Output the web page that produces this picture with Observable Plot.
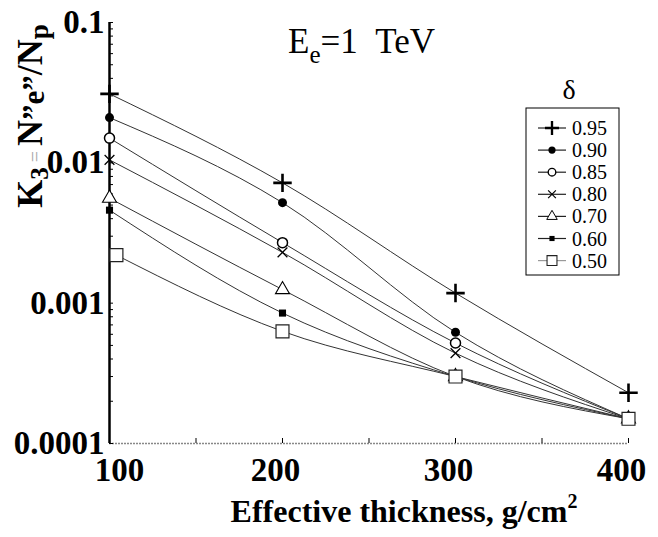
<!DOCTYPE html>
<html><head><meta charset="utf-8">
<script src="https://cdn.jsdelivr.net/npm/d3@7"></script>
<script src="https://cdn.jsdelivr.net/npm/@observablehq/plot@0.6"></script>
<style>
body{margin:0;background:#fff;}
#chart{position:relative;width:658px;height:537px;}
</style></head><body><div id="chart"></div>
<script>
// ---- data ----
const thickness = [100, 200, 300, 400];
const thickness50 = [104, 200, 300, 400];
const deltas = ["0.95", "0.90", "0.85", "0.80", "0.70", "0.60", "0.50"];
const k095 = [0.031, 0.0072, 0.00118, 0.00023];
const k090 = [0.021, 0.0052, 0.00062, 0.00015];
const k085 = [0.0150, 0.0027, 0.00052, 0.00015];
const k080 = [0.0105, 0.0023, 0.00044, 0.00015];
const k070 = [0.0056, 0.00125, 0.00030, 0.00015];
const k060 = [0.0046, 0.00085, 0.00030, 0.00015];
const k050 = [0.0022, 0.00063, 0.00030, 0.00015];
const xTickFirst = [100];
const xTickRest = [200, 300, 400];
const xMinorTicks = [150, 200, 250, 300, 350, 400];
const yTickLabels = [0.1, 0.01, 0.001, 0.0001];

// ---- assembly ----
const seriesK = [k095, k090, k085, k080, k070, k060, k050];
const seriesX = [thickness, thickness, thickness, thickness, thickness, thickness, thickness50];
const rows = deltas.flatMap((d, i) => seriesK[i].map((k, j) => ({delta: d, x: seriesX[i][j], k})));
const yMinor = [];
for (const dec of [0.0001, 0.001, 0.01]) for (let m = 1; m <= 9; m++) yMinor.push(+(dec * m).toPrecision(3));
yMinor.push(0.1);

const style = {
  "0.95": {symbol: "plus", r: 6, fill: "none", stroke: "black", strokeWidth: 2.6, lr: 4.6},
  "0.90": {symbol: "circle", r: 4.5, fill: "black", stroke: "none", strokeWidth: 0, lr: 3.6},
  "0.85": {symbol: "circle", r: 5, fill: "white", stroke: "black", strokeWidth: 1.5, lr: 3.8},
  "0.80": {symbol: "times", r: 4.5, fill: "none", stroke: "black", strokeWidth: 1.3, lr: 3.6},
  "0.70": {symbol: "triangle", r: 5.2, fill: "white", stroke: "black", strokeWidth: 1.1, lr: 3.9},
  "0.60": {symbol: "square", r: 4, fill: "black", stroke: "none", strokeWidth: 0, lr: 2.9},
  "0.50": {symbol: "square", r: 7.3, fill: "white", stroke: "#222", strokeWidth: 1.2, lr: 5.6}
};
const d3sym = {plus: d3.symbolPlus, circle: d3.symbolCircle, times: d3.symbolTimes, triangle: d3.symbolTriangle, square: d3.symbolSquare};

const serif = "'Liberation Serif', 'Times New Roman', serif";

const dotMarks = deltas.map(d => {
  const s = style[d];
  return Plot.dot(rows.filter(r => r.delta === d), {
    x: "x", y: "k", symbol: () => s.symbol, r: s.r,
    fill: s.fill, stroke: s.stroke, strokeWidth: s.strokeWidth
  });
});

const xLabelStyle = {tickSize: 0, tickPadding: 14, fontSize: 33, fontWeight: "bold", fontFamily: serif, fill: "black", label: null, tickFormat: d => String(d)};

const plot = Plot.plot({
  width: 658, height: 537,
  marginLeft: 109, marginRight: 30, marginTop: 22, marginBottom: 94,
  x: {type: "linear", domain: [100, 400], label: null},
  y: {type: "log", domain: [0.0001, 0.1], label: null},
  symbol: {type: "identity"},
  marks: [
    Plot.ruleY([0.0001], {stroke: "#888", strokeWidth: 1.5, strokeDasharray: "2,1"}),
    Plot.axisX(xMinorTicks, {tickSize: -5, tickFormat: () => "", stroke: "black", label: null}),
    Plot.axisX(xTickFirst, {...xLabelStyle, dx: 10}),
    Plot.axisX(xTickRest, {...xLabelStyle, dx: -7}),
    Plot.axisY(yMinor, {tickSize: -4, tickFormat: () => "", stroke: "black", label: null}),
    Plot.axisY(yTickLabels, {tickSize: 0, tickPadding: 5, fontSize: 33, fontWeight: "bold", fontFamily: serif, fill: "black", label: null, tickFormat: d => String(d)}),
    Plot.ruleX([100], {stroke: "black", strokeWidth: 2.5}),
    Plot.line(rows, {x: "x", y: "k", z: "delta", curve: "monotone-x", stroke: "#333", strokeWidth: 1}),
    ...dotMarks
  ]
});
document.getElementById("chart").appendChild(plot);

// ---- text annotations and legend ----
const svg = d3.select(plot);
// y-axis title
const yl = svg.append("text")
  .attr("transform", "translate(42,116) rotate(-90)")
  .attr("text-anchor", "middle")
  .style("font-family", serif).style("font-weight", "bold").style("font-size", "36px").attr("fill", "black");
yl.append("tspan").text("K");
yl.append("tspan").attr("font-size", "25px").attr("dy", 6).text("3");
yl.append("tspan").attr("font-size", "20px").attr("font-weight", "normal").attr("fill", "#aaa").attr("dy", -6).attr("dx", 5).text("=");
yl.append("tspan").attr("dx", 5).text("N");
yl.append("tspan").attr("font-size", "31px").attr("dy", 2).text("\u201De\u201D");
yl.append("tspan").attr("dy", -2).text("/N");
yl.append("tspan").attr("font-size", "27px").attr("dy", 6).text("p");

// x-axis title
const xl = svg.append("text")
  .attr("x", 404).attr("y", 522).attr("text-anchor", "middle")
  .style("font-family", serif).style("font-weight", "bold").style("font-size", "32px").attr("fill", "black");
xl.append("tspan").text("Effective thickness, g/cm");
xl.append("tspan").attr("font-size", "20px").attr("dy", -14).text("2");

// chart title
const tt = svg.append("text").attr("x", 288).attr("y", 53).attr("text-anchor", "start")
  .style("font-family", serif).style("font-size", "35px").attr("fill", "black");
tt.append("tspan").text("E");
tt.append("tspan").attr("font-size", "25px").attr("dy", 10).text("e");
tt.append("tspan").attr("dy", -10).text("=1\u00A0\u00A0TeV");

// legend
const lg = svg.append("g");
lg.append("text").attr("x", 569).attr("y", 99).attr("text-anchor", "middle")
  .style("font-family", serif).style("font-size", "28px").attr("fill", "black").text("\u03B4");
lg.append("rect").attr("x", 526).attr("y", 108).attr("width", 93).attr("height", 167)
  .attr("fill", "white").attr("stroke", "black").attr("stroke-width", 1);
deltas.forEach((d, i) => {
  const s = style[d];
  const cy = 128 + i * 22.1;
  lg.append("line").attr("x1", 538).attr("x2", 566).attr("y1", cy).attr("y2", cy)
    .attr("stroke", d === "0.50" ? "#999" : "#222").attr("stroke-width", 1.2);
  lg.append("path").attr("transform", `translate(552,${cy})`)
    .attr("d", d3.symbol().type(d3sym[s.symbol]).size(Math.PI * s.lr * s.lr)())
    .attr("fill", s.fill).attr("stroke", s.stroke).attr("stroke-width", s.strokeWidth * 0.9);
  lg.append("text").attr("x", 572).attr("y", cy).attr("dy", "0.35em").attr("text-anchor", "start")
    .style("font-family", serif).style("font-size", "20px").attr("fill", "black").text(d);
});
</script>
</body></html>
